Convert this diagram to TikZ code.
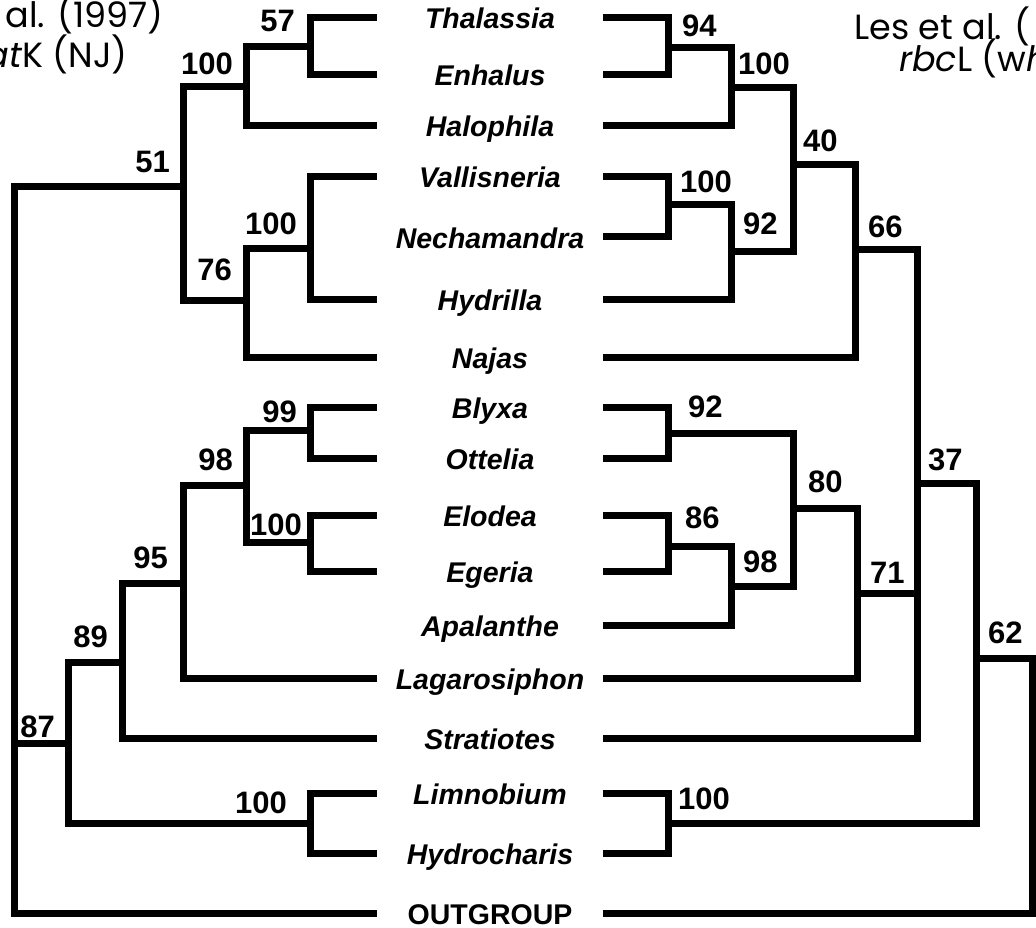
\documentclass[tikz,border=0pt]{standalone}
\usepackage{fontspec}
\setmainfont{Liberation Sans}
\newfontfamily\hdrfamily{Poppins}
\newcommand\myTaxFont{\fontsize{28.5}{30}\selectfont\bfseries\itshape}
\newcommand\myOutFont{\fontsize{28.5}{30}\selectfont\bfseries}
\newcommand\myNumFont{\fontsize{31}{33}\selectfont\bfseries}
\newcommand\myHdrFont{\hdrfamily\fontsize{35}{37}\selectfont}
\begin{document}
\begin{tikzpicture}[x=1pt,y=-1pt,
  br/.style={line width=7pt, line join=miter},
  tax/.style={font=\myTaxFont, minimum width=226pt, inner sep=0pt, text height=22pt, text depth=0pt},
  bsL/.style={font=\myNumFont, anchor=base east, inner sep=0pt},
  bsR/.style={font=\myNumFont, anchor=base west, inner sep=0pt},
  hdr/.style={font=\myHdrFont, inner sep=0pt}]
\useasboundingbox (0,0) rectangle (1036,928);
\clip (0,0) rectangle (1036,928);

% headers
\node[hdr, anchor=base east] (hl1) at (164,28) {al. (1997)};
\node[hdr, anchor=base east] (hl2) at (128,68) {\textit{at}K (NJ)};
\node[hdr, anchor=base west] (hr1) at (854,40) {Les et al. (};
\node[hdr, anchor=base west] (hr2) at (899,72) {\textit{rbc}L (w\textit{h}};

% taxa
\node[tax] (thal) at (490,18) {Thalassia};
\node[tax] (enha) at (490,75) {Enhalus};
\node[tax] (halo) at (490,126) {Halophila};
\node[tax] (vall) at (490,177) {Vallisneria};
\node[tax] (nech) at (490,237) {Nechamandra};
\node[tax] (hydr) at (490,299) {Hydrilla};
\node[tax] (naja) at (490,357) {Najas};
\node[tax] (blyx) at (490,407) {Blyxa};
\node[tax] (otte) at (490,458) {Ottelia};
\node[tax] (elod) at (490,515) {Elodea};
\node[tax] (eger) at (490,571) {Egeria};
\node[tax] (apal) at (490,625) {Apalanthe};
\node[tax] (laga) at (490,678) {Lagarosiphon};
\node[tax] (stra) at (490,738) {Stratiotes};
\node[tax] (limn) at (490,793) {Limnobium};
\node[tax] (hych) at (490,853) {Hydrocharis};
\node[tax, font=\myOutFont] (outg) at (490,913) {OUTGROUP};

% left tree internal nodes
\coordinate (L57) at (310,47);
\coordinate (L100a) at (246,87);
\coordinate (L100b) at (310,248);
\coordinate (L76) at (246,300);
\coordinate (L51) at (183,187);
\coordinate (L99) at (310,430);
\coordinate (L100c) at (310,542);
\coordinate (L98) at (246,485);
\coordinate (L95) at (183,583);
\coordinate (L89) at (122,662);
\coordinate (L100d) at (310,823);
\coordinate (L87) at (68,743);
\coordinate (LR) at (14,187);

\draw[br] (thal.west) -| (L57);
\draw[br] (enha.west) -| (L57);
\draw[br] (L57) -| (L100a);
\draw[br] (halo.west) -| (L100a);
\draw[br] (vall.west) -| (L100b);
\draw[br] (hydr.west) -| (L100b);
\draw[br] (L100b) -| (L76);
\draw[br] (naja.west) -| (L76);
\draw[br] (L100a) -| (L51);
\draw[br] (L76) -| (L51);
\draw[br] (outg.west) -| (LR) -- (L51);
\draw[br] (L87) -- (L87 -| LR);
\draw[br] (blyx.west) -| (L99);
\draw[br] (otte.west) -| (L99);
\draw[br] (elod.west) -| (L100c);
\draw[br] (eger.west) -| (L100c);
\draw[br] (L99) -| (L98);
\draw[br] (L100c) -| (L98);
\draw[br] (L98) -| (L95);
\draw[br] (laga.west) -| (L95);
\draw[br] (L95) -| (L89);
\draw[br] (stra.west) -| (L89);
\draw[br] (L89) -| (L87);
\draw[br] (L100d) -| (L87);
\draw[br] (limn.west) -| (L100d);
\draw[br] (hych.west) -| (L100d);

% left support values
\node[bsL] (sL57) at (295,32) {57};
\node[bsL] (sL100a) at (233,75) {100};
\node[bsL] (sL51) at (170,173) {51};
\node[bsL] (sL100b) at (297,235) {100};
\node[bsL] (sL76) at (232,280) {76};
\node[bsL] (sL99) at (297,422) {99};
\node[bsL] (sL98) at (233,470) {98};
\node[bsL] (sL100c) at (302,535) {100};
\node[bsL] (sL95) at (168,568) {95};
\node[bsL] (sL89) at (108,647) {89};
\node[bsL] (sL87) at (55,737) {87};
\node[bsL] (sL100d) at (287,813) {100};

% right tree internal nodes
\coordinate (R94) at (668,48);
\coordinate (R100a) at (731,88);
\coordinate (R100b) at (668,205);
\coordinate (R92a) at (731,251);
\coordinate (R40) at (793,165);
\coordinate (R66) at (855,249);
\coordinate (R92b) at (668,433);
\coordinate (R86) at (668,546);
\coordinate (R98) at (731,586);
\coordinate (R80) at (793,508);
\coordinate (R71) at (857,593);
\coordinate (R37) at (917,483);
\coordinate (R100c) at (668,823);
\coordinate (R62) at (976,658);
\coordinate (RR) at (1032,658);

\draw[br] (thal.east) -| (R94);
\draw[br] (enha.east) -| (R94);
\draw[br] (R94) -| (R100a);
\draw[br] (halo.east) -| (R100a);
\draw[br] (vall.east) -| (R100b);
\draw[br] (nech.east) -| (R100b);
\draw[br] (R100b) -| (R92a);
\draw[br] (hydr.east) -| (R92a);
\draw[br] (R100a) -| (R40);
\draw[br] (R92a) -| (R40);
\draw[br] (R40) -| (R66);
\draw[br] (naja.east) -| (R66);
\draw[br] (blyx.east) -| (R92b);
\draw[br] (otte.east) -| (R92b);
\draw[br] (elod.east) -| (R86);
\draw[br] (eger.east) -| (R86);
\draw[br] (R86) -| (R98);
\draw[br] (apal.east) -| (R98);
\draw[br] (R92b) -| (R80);
\draw[br] (R98) -| (R80);
\draw[br] (R80) -| (R71);
\draw[br] (laga.east) -| (R71);
\draw[br] (R66) -| (R37);
\draw[br] (R71) -| (R37);
\draw[br] (stra.east) -| (R37);
\draw[br] (R37) -| (R62);
\draw[br] (R100c) -| (R62);
\draw[br] (limn.east) -| (R100c);
\draw[br] (hych.east) -| (R100c);
\draw[br] (outg.east) -| (RR) -- (R62);

% right support values
\node[bsR] (sR94) at (682,37) {94};
\node[bsR] (sR100a) at (738,75) {100};
\node[bsR] (sR40) at (803,152) {40};
\node[bsR] (sR100b) at (680,193) {100};
\node[bsR] (sR92a) at (743,235) {92};
\node[bsR] (sR66) at (868,237) {66};
\node[bsR] (sR92b) at (688,417) {92};
\node[bsR] (sR86) at (685,528) {86};
\node[bsR] (sR98) at (743,572) {98};
\node[bsR] (sR80) at (808,492) {80};
\node[bsR] (sR71) at (870,583) {71};
\node[bsR] (sR37) at (928,470) {37};
\node[bsR] (sR62) at (988,643) {62};
\node[bsR] (sR100c) at (678,809) {100};
\end{tikzpicture}
\end{document}
